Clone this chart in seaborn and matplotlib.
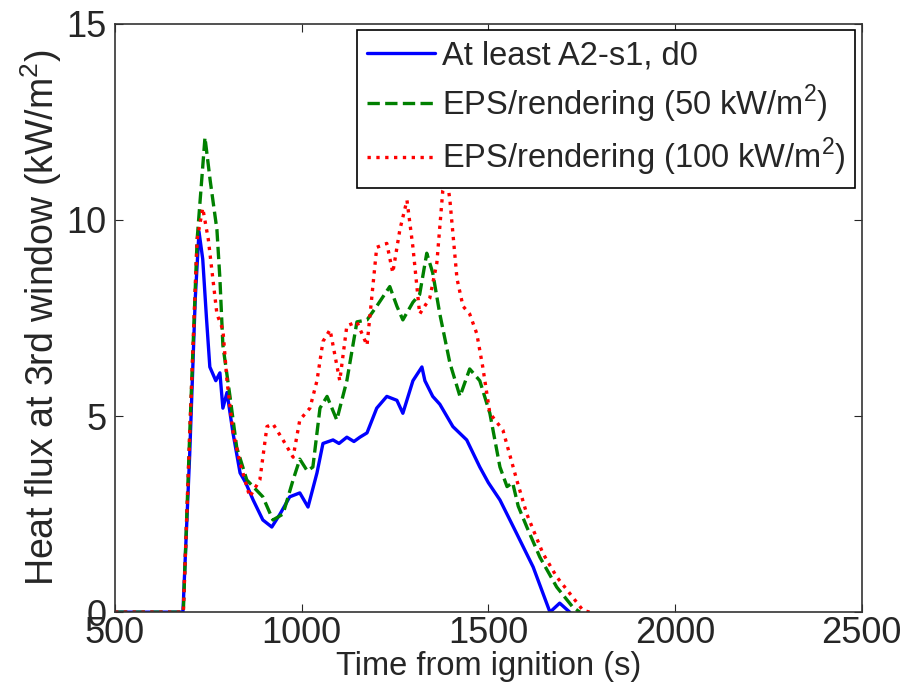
import matplotlib
matplotlib.use("Agg")
import matplotlib.pyplot as plt
import pandas as pd
import seaborn as sns

# series (time s, heat flux kW/m2)
blue_t = [500, 682, 700, 715, 725, 735, 745, 754, 770, 781, 789, 800, 816, 835, 850,
          870, 896, 920, 942, 968, 995, 1017, 1041, 1057, 1084, 1100, 1121, 1140, 1156,
          1175, 1201, 1228, 1255, 1271, 1298, 1322, 1330, 1351, 1370, 1405, 1442, 1477,
          1500, 1531, 1576, 1620, 1665, 1691, 1718]
blue_y = [0, 0, 4.0, 8.0, 9.7, 9.0, 7.5, 6.25, 5.9, 6.1, 5.2, 5.6, 4.57, 3.55, 3.3,
          2.86, 2.35, 2.17, 2.5, 2.94, 3.04, 2.68, 3.55, 4.3, 4.39, 4.3, 4.46, 4.35, 4.46,
          4.57, 5.2, 5.5, 5.4, 5.07, 5.9, 6.25, 5.9, 5.5, 5.3, 4.73, 4.39, 3.7,
          3.3, 2.86, 2.0, 1.15, 0, 0.23, 0]

green_t = [500, 683, 700, 720, 741, 755, 773, 781, 789, 808, 826, 853, 896, 923, 950,
           977, 995, 1015, 1030, 1049, 1068, 1094, 1121, 1148, 1175, 1201, 1236, 1255,
           1271, 1298, 1316, 1335, 1351, 1370, 1397, 1424, 1450, 1477, 1504, 1531, 1550,
           1565, 1580, 1603, 1638, 1683, 1726, 1745]
green_y = [0, 0, 4.5, 9.5, 12.1, 11.0, 9.75, 8.5, 6.8, 5.5, 4.2, 3.37, 2.94, 2.35, 2.5,
           3.37, 3.9, 3.6, 3.7, 5.2, 5.5, 4.9, 5.9, 7.4, 7.45, 7.8, 8.3, 7.8,
           7.45, 7.9, 8.1, 9.15, 8.65, 7.6, 6.35, 5.5, 6.2, 5.9, 5.07, 3.7, 3.2,
           3.3, 2.7, 2.17, 1.4, 0.64, 0.13, 0]

red_t = [500, 683, 700, 720, 735, 750, 773, 789, 800, 816, 835, 861, 888, 907, 923,
         950, 977, 995, 1022, 1041, 1057, 1076, 1102, 1121, 1148, 1175, 1201, 1228,
         1244, 1263, 1282, 1298, 1316, 1343, 1362, 1378, 1390, 1397, 1416, 1432, 1450,
         1469, 1485, 1504, 1539, 1576, 1603, 1646, 1683, 1726, 1753, 1771]
red_y = [0, 0, 4.5, 9.5, 10.3, 9.5, 7.6, 7.2, 5.9, 4.6, 3.8, 2.94, 3.37, 4.73, 4.8,
         4.39, 3.95, 4.9, 5.2, 5.9, 6.9, 7.2, 5.9, 7.3, 7.4, 6.8, 9.3, 9.4,
         8.65, 9.75, 10.5, 9.3, 7.6, 8.0, 8.9, 10.75, 11.0, 10.5, 8.5, 7.8, 7.6,
         7.1, 6.25, 5.07, 4.64, 3.37, 2.5, 1.5, 0.9, 0.38, 0.05, 0]

labels = ["At least A2-s1, d0",
          "EPS/rendering (50 kW/m$^2$)",
          "EPS/rendering (100 kW/m$^2$)"]
x_ticks = [500, 1000, 1500, 2000, 2500]
y_ticks = [0, 5, 10, 15]

sns.set_style("ticks")
plt.rcParams["font.family"] = ["Liberation Sans", "DejaVu Sans"]
plt.rcParams["mathtext.fontset"] = "custom"
plt.rcParams["mathtext.rm"] = "Liberation Sans"
plt.rcParams["xtick.direction"] = "in"
plt.rcParams["ytick.direction"] = "in"

fig = plt.figure(figsize=(9.09, 6.98), dpi=100)
ax = fig.add_axes([0.1265, 0.123, 0.8215, 0.843])

styles = [("#0000ff", "-"), ("#008000", "--"), ("#ff0000", ":")]
for (t, y), lab, (col, ls) in zip([(blue_t, blue_y), (green_t, green_y), (red_t, red_y)],
                                   labels, styles):
    df = pd.DataFrame({"t": t, "y": y})
    sns.lineplot(data=df, x="t", y="y", ax=ax, color=col, linestyle=ls,
                 linewidth=2.4, label=lab, sort=False)

ax.set_xlim(500, 2500)
ax.set_ylim(0, 15)
ax.set_xticks(x_ticks)
ax.set_yticks(y_ticks)
ax.tick_params(labelsize=26, length=6, width=0.8, top=True, right=True)
ax.tick_params(axis="y", pad=6)
ax.tick_params(axis="x", pad=3)
for sp in ax.spines.values():
    sp.set_linewidth(1.2)
    sp.set_color("#333333")
ax.set_xlabel("Time from ignition (s)", fontsize=23.5, labelpad=0)
ax.set_ylabel("Heat flux at 3rd window (kW/m$^2$)", fontsize=27, labelpad=2)

leg = ax.legend(loc="upper right", fontsize=23.5, frameon=True, fancybox=False,
                framealpha=1, edgecolor="black", handlelength=2.1,
                borderaxespad=0.2, labelspacing=0.35, handletextpad=0.2,
                borderpad=0.3)
leg.get_frame().set_linewidth(1.2)

fig.savefig("out.png", dpi=100)
